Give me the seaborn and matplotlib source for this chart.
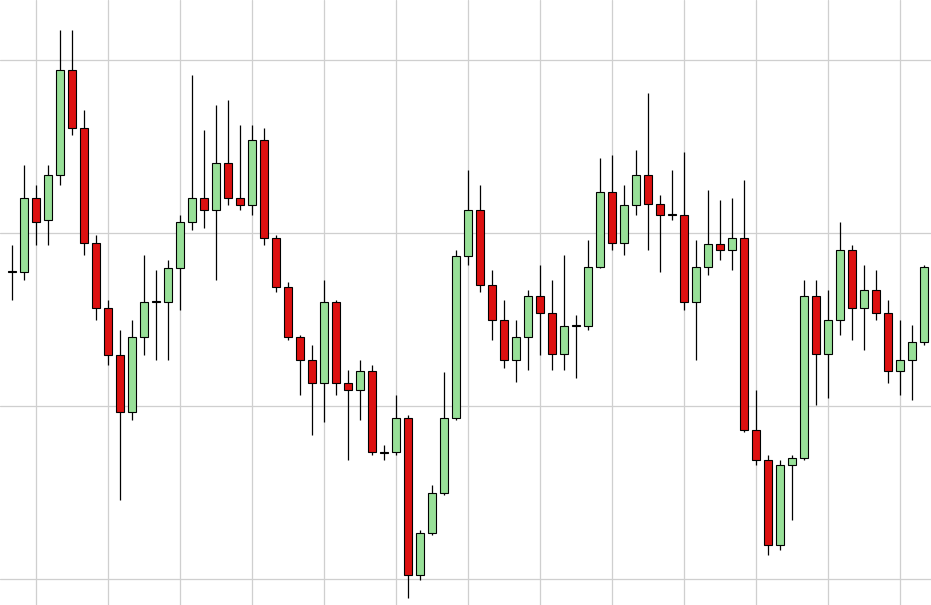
import numpy as np
import pandas as pd
import matplotlib
matplotlib.use("Agg")
import matplotlib.pyplot as plt
import seaborn as sns

# prices (arbitrary units, higher = up)
opens = [333, 333, 407, 385, 430, 535, 477, 362, 297, 250, 193, 268, 303, 303, 337, 383,
         407, 395, 442, 407, 400, 465, 367, 318, 268, 245, 222, 303, 222, 215, 234, 153,
         153, 187, 30, 72, 112, 187, 349, 395, 320, 285, 245, 268, 309, 292, 251, 279,
         279, 338, 413, 362, 400, 430, 401, 390, 390, 303, 338, 361, 355, 367, 175, 145,
         60, 140, 147, 309, 251, 285, 355, 297, 315, 292, 234, 245, 263]
closes = [333, 407, 383, 430, 535, 477, 362, 297, 250, 193, 268, 303, 303, 337, 383, 407,
          395, 442, 407, 400, 465, 367, 318, 268, 245, 222, 303, 222, 215, 234, 153, 152,
          187, 30, 72, 112, 187, 349, 395, 320, 285, 245, 268, 309, 292, 251, 279, 280,
          338, 413, 362, 400, 430, 401, 390, 390, 303, 338, 361, 355, 367, 175, 145, 60,
          140, 147, 309, 251, 285, 355, 297, 315, 292, 234, 245, 263, 338]
highs = [360, 440, 420, 440, 575, 575, 495, 370, 305, 275, 285, 350, 335, 345, 390, 530,
         475, 500, 505, 480, 480, 477, 370, 323, 270, 260, 325, 305, 235, 245, 240, 160,
         210, 190, 75, 120, 233, 355, 435, 420, 335, 305, 285, 315, 340, 325, 350, 290,
         365, 447, 450, 420, 455, 512, 410, 435, 453, 365, 415, 405, 407, 425, 215, 150,
         145, 150, 325, 325, 315, 383, 360, 340, 335, 305, 285, 280, 340]
lows = [305, 325, 360, 360, 420, 470, 350, 285, 240, 105, 185, 250, 245, 245, 295, 375,
        377, 325, 400, 395, 390, 360, 313, 265, 210, 170, 183, 210, 145, 185, 150, 145,
        150, 7, 25, 70, 110, 185, 340, 313, 265, 237, 223, 235, 250, 235, 235, 227,
        275, 337, 355, 350, 390, 355, 333, 385, 295, 245, 330, 345, 335, 173, 140, 50,
        55, 85, 145, 200, 207, 270, 265, 255, 285, 222, 210, 205, 260]

df = pd.DataFrame({"open": opens, "close": closes, "high": highs, "low": lows})
df["idx"] = np.arange(len(df))
df["up"] = df["close"] >= df["open"]

sns.set_style("whitegrid", {"grid.color": "#cfcfcf"})
fig = plt.figure(figsize=(9.31, 6.05), dpi=100)
ax = fig.add_axes([0, 0, 1, 1])

# wicks
ax.vlines(df["idx"], df["low"], df["high"], color="black", linewidth=0.9, zorder=2)

# bodies
bottom = df[["open", "close"]].min(axis=1)
height = (df["close"] - df["open"]).abs().clip(lower=1)
colors = np.where(df["up"], "#98e098", "#dd1010")
ax.bar(df["idx"], height, bottom=bottom, width=0.72, color=colors,
       edgecolor="black", linewidth=0.8, zorder=3)

ax.set_xlim(-1.0, 931 / 12 - 1.0)
ax.set_ylim(0, 605)
ax.set_xticks(np.arange(2, 78, 6))
ax.set_yticks([26, 199, 372, 545])
ax.set_xticklabels([])
ax.set_yticklabels([])
ax.tick_params(length=0)
for s in ax.spines.values():
    s.set_visible(False)
ax.grid(True, color="#cfcfcf", linewidth=0.9, zorder=0)

fig.savefig("out.png", dpi=100)
